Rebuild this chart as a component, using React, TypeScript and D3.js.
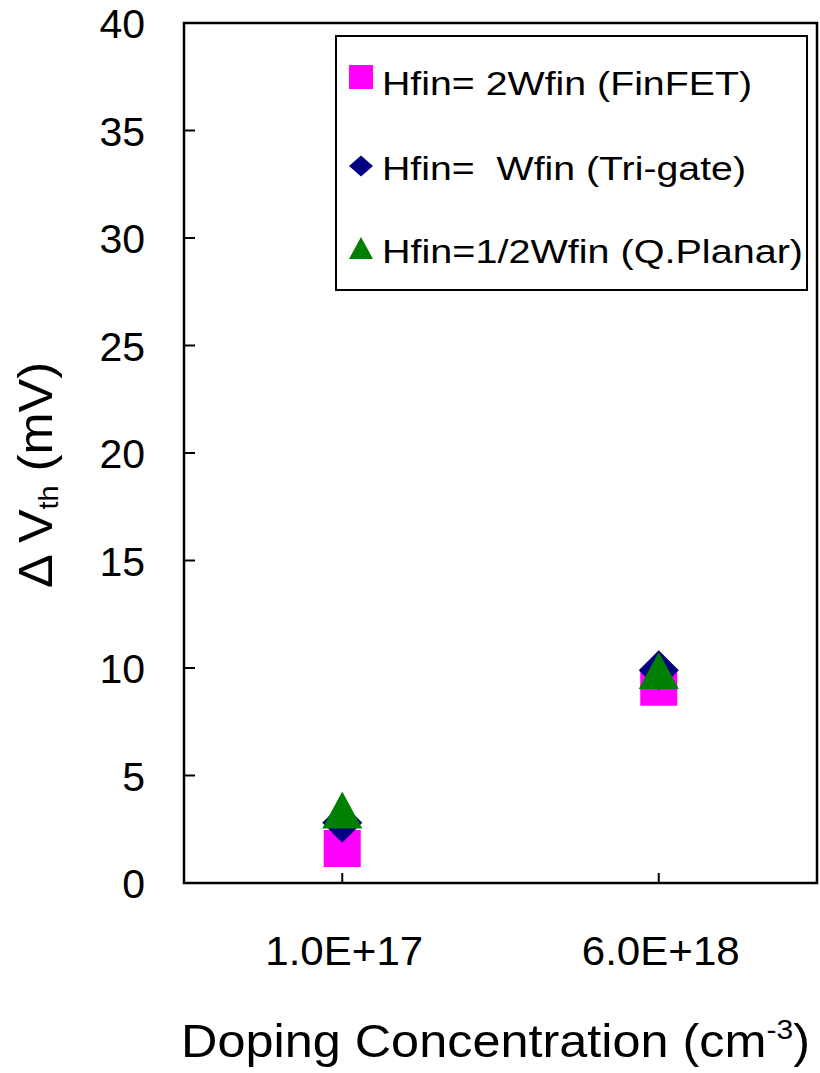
import React from "react";
import * as d3 from "d3";

// Doping concentrations (categories) and threshold-voltage shift per fin shape
const categories = ["1.0E+17", "6.0E+18"];
const finfetValues = [1.6, 9.1];
const trigateValues = [2.8, 9.9];
const qplanarValues = [3.4, 9.88];
const yTicks = [0, 5, 10, 15, 20, 25, 30, 35, 40];
const legendLabels = [
  "Hfin= 2Wfin (FinFET)",
  "Hfin=  Wfin (Tri-gate)",
  "Hfin=1/2Wfin (Q.Planar)",
];

const W = 820;
const H = 1073;
const plot = { left: 184, top: 23, right: 817, bottom: 883 };
const FONT = "'Liberation Sans', Arial, Helvetica, sans-serif";

const x = d3
  .scalePoint<string>()
  .domain(categories)
  .range([plot.left, plot.right])
  .padding(0.5);
const y = d3.scaleLinear().domain([0, 40]).range([plot.bottom, plot.top]);

const squarePath = (s: number) =>
  `M${-s / 2},${-s / 2}H${s / 2}V${s / 2}H${-s / 2}Z`;
const diamondPath = (w: number, h: number) =>
  `M0,${-h / 2}L${w / 2},0L0,${h / 2}L${-w / 2},0Z`;
const trianglePath = (w: number, h: number) =>
  `M0,${-h / 2}L${w / 2},${h / 2}L${-w / 2},${h / 2}Z`;

const series = [
  { values: finfetValues, color: "#FF00FF", path: squarePath(37), legendPath: squarePath(24) },
  { values: trigateValues, color: "#000080", path: diamondPath(40, 40), legendPath: diamondPath(24, 21) },
  { values: qplanarValues, color: "#008000", path: trianglePath(40, 37), legendPath: trianglePath(24, 22) },
];

const legendWidths = [370, 364, 421];

export default function App() {
  return (
    <svg
      width={W}
      height={H}
      viewBox={`0 0 ${W} ${H}`}
      style={{ position: "absolute", left: 0, top: 0, background: "#fff" }}
      fontFamily={FONT}
    >
      <rect x={0} y={0} width={W} height={H} fill="#fff" />

      {/* y ticks (inside) and labels */}
      {yTicks.map((t) => (
        <g key={t}>
          <line
            x1={plot.left}
            x2={plot.left + 11}
            y1={y(t)}
            y2={y(t)}
            stroke="#000"
            strokeWidth={2}
          />
          <text
            x={145}
            y={y(t) + 15}
            textAnchor="end"
            fontSize={41}
            fill="#000"
          >
            {t}
          </text>
        </g>
      ))}

      {/* x ticks (inside) and category labels */}
      {categories.map((c) => (
        <g key={c}>
          <line
            x1={x(c)}
            x2={x(c)}
            y1={plot.bottom}
            y2={plot.bottom - 10}
            stroke="#000"
            strokeWidth={2}
          />
          <text
            x={x(c)! + 2}
            y={965}
            textAnchor="middle"
            fontSize={41}
            fill="#000"
            textLength={158}
            lengthAdjust="spacingAndGlyphs"
          >
            {c}
          </text>
        </g>
      ))}

      {/* data markers */}
      {series.map((s, si) =>
        s.values.map((v, i) => (
          <path
            key={`${si}-${i}`}
            d={s.path}
            transform={`translate(${x(categories[i])},${y(v)})`}
            fill={s.color}
          />
        ))
      )}

      {/* plot frame */}
      <rect
        x={plot.left}
        y={plot.top}
        width={plot.right - plot.left}
        height={plot.bottom - plot.top}
        fill="none"
        stroke="#000"
        strokeWidth={2.5}
      />

      {/* legend */}
      <rect
        x={336}
        y={36}
        width={471}
        height={254}
        fill="#fff"
        stroke="#000"
        strokeWidth={2}
      />
      {legendLabels.map((label, i) => {
        const cy = [77, 166, 248][i];
        const base = [95, 180, 263][i];
        return (
          <g key={label}>
            <path
              d={series[i].legendPath}
              transform={`translate(361,${cy})`}
              fill={series[i].color}
            />
            <text
              x={382}
              y={base}
              fontSize={33}
              fill="#000"
              style={{ whiteSpace: "pre" }}
              textLength={legendWidths[i]}
              lengthAdjust="spacingAndGlyphs"
            >
              {label}
            </text>
          </g>
        );
      })}

      {/* axis titles */}
      <text
        x={181}
        y={1057}
        fontSize={47}
        fill="#000"
        textLength={629}
        lengthAdjust="spacingAndGlyphs"
      >
        Doping Concentration (cm
        <tspan fontSize={28} dy={-18}>-3</tspan>
        <tspan dy={18}>)</tspan>
      </text>

      <text
        transform={`translate(52,588) rotate(-90)`}
        fontSize={49}
        fill="#000"
        textLength={226}
        lengthAdjust="spacingAndGlyphs"
        style={{ whiteSpace: "pre" }}
      >
        {"Δ V"}
        <tspan fontSize={28} dy={6}>th</tspan>
        <tspan dy={-6}>{" (mV)"}</tspan>
      </text>
    </svg>
  );
}
